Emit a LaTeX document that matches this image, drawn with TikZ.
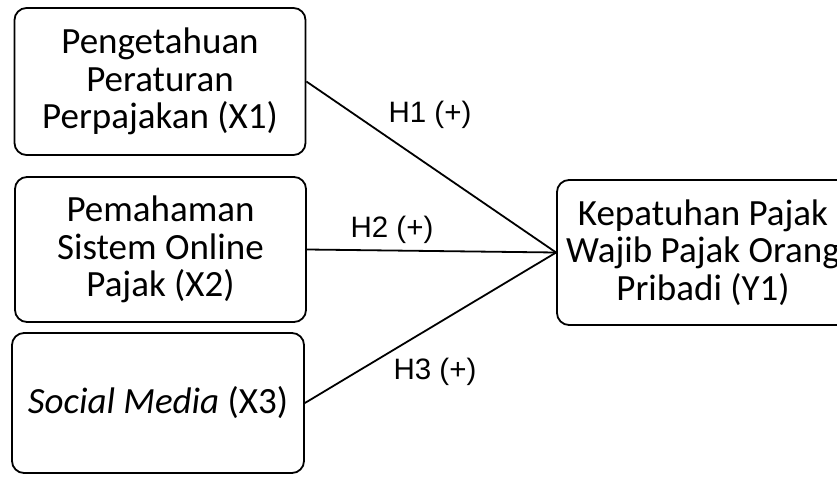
\documentclass[tikz,border=0pt]{standalone}
\usepackage{fontspec}
\setmainfont{Carlito}
\newfontfamily\hypfont{Liberation Sans}
\begin{document}
\begin{tikzpicture}[x=1pt,y=-1pt,
  var/.style={draw, line width=1.8pt, rounded corners=12pt, align=center,
    font=\fontsize{37}{37.5}\selectfont, inner sep=0pt},
  hyp/.style={font=\hypfont\fontsize{29.5}{32}\selectfont}]
\clip (0,0) rectangle (837,476);
\node[var, minimum width=291pt, minimum height=147pt] (x1) at (160,81.5) {Pengetahuan\\Peraturan\\Perpajakan (X1)};
\node[var, minimum width=291pt, minimum height=145pt] (x2) at (160.5,249.5) {Pemahaman\\Sistem Online\\Pajak (X2)};
\node[var, minimum width=292pt, minimum height=140pt] (x3) at (158,403) {\textit{Social Media} (X3)};
\node[var, minimum width=292pt, minimum height=145pt] (y1) at (703,252.5) {Kepatuhan Pajak\\Wajib Pajak Orang\\Pribadi (Y1)};
\draw[line width=1.8pt] (x1.east) -- (y1.west);
\draw[line width=1.8pt] (x2.east) -- (y1.west);
\draw[line width=1.8pt] (x3.east) -- (y1.west);
\node[hyp] (h1) at (430,115) {H1 (+)};
\node[hyp] (h2) at (392,230) {H2 (+)};
\node[hyp] (h3) at (435,372) {H3 (+)};
\end{tikzpicture}
\end{document}
